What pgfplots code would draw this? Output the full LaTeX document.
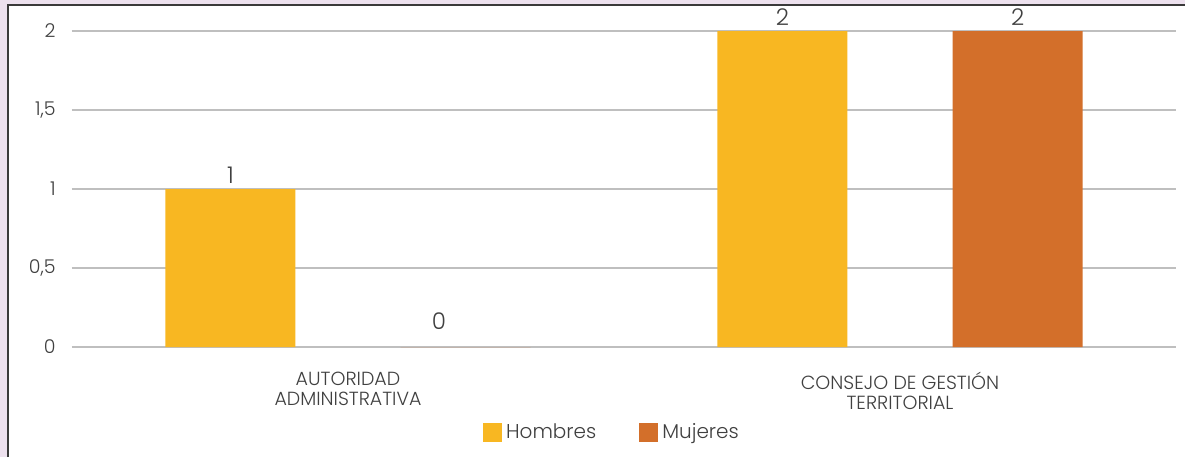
\documentclass[border=0pt]{standalone}
\usepackage{pgfplots}
\pgfplotsset{compat=1.18}
\usetikzlibrary{backgrounds}
\usepackage{fontspec}
\setmainfont{Poppins Light}

\definecolor{hombres}{HTML}{F8B722}
\definecolor{mujeres}{HTML}{D36F2A}
\definecolor{textgray}{HTML}{404040}
\definecolor{gridgray}{HTML}{BFBFBF}
\definecolor{lavanda}{HTML}{EDE1EE}
\definecolor{borde}{HTML}{3A3A3A}

\begin{document}
\begin{tikzpicture}
\begin{axis}[
    at={(36pt,-173.5pt)}, anchor=south west,
    scale only axis,
    width=552pt, height=158pt,
    ybar,
    bar width=0.2355,
    xmin=-0.5, xmax=1.5,
    ymin=0, ymax=2,
    xtick={0,1},
    xticklabels={AUTORIDAD\\ADMINISTRATIVA, CONSEJO DE GESTIÓN\\TERRITORIAL},
    ytick={0,0.5,1,1.5,2},
    axis line style={draw=none},
    tick style={draw=none},
    ymajorgrids,
    grid style={gridgray, line width=0.75pt},
    /pgf/number format/use comma,
    /pgf/number format/assume math mode=true,
    xticklabel style={align=center, inner sep=0pt, yshift=-8pt,
        text=textgray, font=\fontsize{9.5}{10}\selectfont},
    yticklabel style={inner sep=0pt, xshift=-8pt,
        text=textgray, font=\fontsize{9.5}{10}\selectfont},
    nodes near coords,
    every node near coord/.append style={inner sep=0pt, yshift=2.5pt,
        text=textgray, font=\fontsize{11.5}{12}\selectfont},
    legend style={at={(0.49,-0.2706)}, anchor=center, draw=none, fill=none,
        legend columns=2, text=textgray, font=\fontsize{10}{11}\selectfont,
        /tikz/every even column/.append style={column sep=19.5pt}},
]

% Hombres
\addplot[fill=hombres, draw=none, bar shift=-0.213,
    legend image code/.code={\fill[hombres] (0pt,-4.75pt) rectangle (9.5pt,4.75pt);}]
    coordinates {(0,1) (1,2)};

% Mujeres
\addplot[fill=mujeres, draw=none, bar shift=0.213,
    coordinate style/.condition={y==0}{xshift=-13.25pt, yshift=6pt},
    legend image code/.code={\fill[mujeres] (0pt,-4.75pt) rectangle (9.5pt,4.75pt);}]
    coordinates {(0,0) (1,2)};

\legend{Hombres, Mujeres}
\end{axis}

% fondo y marco (1 px = 0.5 pt)
\begin{scope}[on background layer]
\fill[lavanda] (0pt,0pt) rectangle (592.5pt,-228.5pt);
\fill[white] (4pt,-2.5pt) rectangle (592.5pt,-228.5pt);
\draw[borde, line width=0.8pt] (4pt,-228.5pt) -- (4pt,-2.5pt) -- (592.5pt,-2.5pt);
\end{scope}
\pgfresetboundingbox
\useasboundingbox (0pt,0pt) rectangle (592.5pt,-228.5pt);
\end{tikzpicture}
\end{document}
